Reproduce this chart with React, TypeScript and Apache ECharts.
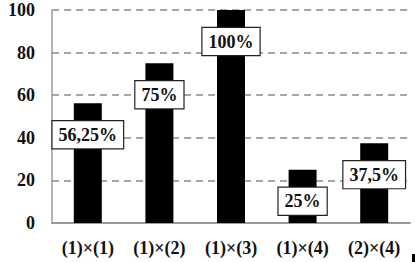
import React, { useEffect, useRef } from "react";
import * as echarts from "echarts";

const categories = ["(1)×(1)", "(1)×(2)", "(1)×(3)", "(1)×(4)", "(2)×(4)"];
const values = [56.25, 75, 100, 25, 37.5];
const labels = ["56,25%", "75%", "100%", "25%", "37,5%"];
const yTicks = [0, 20, 40, 60, 80, 100];

const FONT = "Liberation Serif";

export default function App() {
  const ref = useRef<HTMLDivElement>(null);
  useEffect(() => {
    if (!ref.current) return;
    const chart = echarts.init(ref.current, null, { renderer: "svg" });
    chart.setOption({
      animation: false,
      grid: { left: 52, right: 5, top: 10, bottom: 39, containLabel: false },
      xAxis: {
        type: "category",
        data: categories,
        axisLine: { show: true, lineStyle: { color: "#9a9a9a", width: 2 } },
        axisTick: { show: false },
        axisLabel: {
          color: "#111",
          fontFamily: FONT,
          fontWeight: "bold",
          fontSize: 18,
          margin: 16,
        },
      },
      yAxis: {
        type: "value",
        min: yTicks[0],
        max: yTicks[yTicks.length - 1],
        interval: 20,
        axisLine: { show: true, lineStyle: { color: "#9a9a9a", width: 1.5 } },
        axisTick: { show: false },
        axisLabel: {
          color: "#111",
          fontFamily: FONT,
          fontWeight: "bold",
          fontSize: 18,
          margin: 17,
        },
        splitLine: {
          show: true,
          lineStyle: { color: "#8a8a8a", type: [7, 5], width: 1.5 },
        },
      },
      series: [
        {
          type: "bar",
          data: values,
          barWidth: 28,
          itemStyle: { color: "#000" },
          label: {
            show: true,
            position: "insideTop",
            distance: 18,
            formatter: (p: any) => labels[p.dataIndex],
            color: "#111",
            fontFamily: FONT,
            fontWeight: "bold",
            fontSize: 18,
            lineHeight: 19,
            backgroundColor: "#fff",
            borderColor: "#222",
            borderWidth: 1.2,
            padding: [4, 6, 4, 6],
          },
        },
      ],
      graphic: [
        {
          type: "rect",
          shape: { x: 412, y: 254, width: 3, height: 8 },
          style: { fill: "#000" },
        },
      ],
    });
    return () => chart.dispose();
  }, []);
  return <div ref={ref} style={{ width: 415, height: 262, position: "absolute", left: 0, top: 0 }} />;
}
